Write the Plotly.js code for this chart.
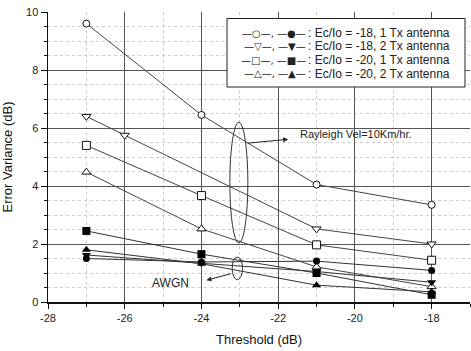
<!DOCTYPE html>
<html>
<head>
<meta charset="utf-8">
<script src="https://cdn.plot.ly/plotly-3.0.1.min.js"></script>
<style>html,body{margin:0;padding:0;background:#fff;}#chart{width:471px;height:351px;}</style>
</head>
<body>
<div id="chart"></div>
<script>
// ---- data ----
var seriesNames = [
  "Ec/Io = -18, 1 Tx antenna",
  "Ec/Io = -18, 2 Tx antenna",
  "Ec/Io = -20, 1 Tx antenna",
  "Ec/Io = -20, 2 Tx antenna"
];
var openSymbols = ["circle", "triangle-down", "square", "triangle-up"];
var filledSymbols = ["circle", "triangle-down", "square", "triangle-up"];
var openGlyphs = ["○", "▽", "□", "△"];
var filledGlyphs = ["●", "▼", "■", "▲"];

var xTickVals = [-28, -26, -24, -22, -20, -18];
var xTickText = ["-28", "-26", "-24", "-22", "-20", "-18"];
var yTickVals = [0, 2, 4, 6, 8, 10];
var yTickText = ["0", "2", "4", "6", "8", "10"];

// Rayleigh (open markers)
var rayX_18_1 = [-27, -24, -21, -18];
var rayY_18_1 = [9.6, 6.45, 4.05, 3.35];
var rayX_18_2 = [-27, -26, -21, -18];
var rayY_18_2 = [6.4, 5.75, 2.52, 2.0];
var rayX_20_1 = [-27, -24, -21, -18];
var rayY_20_1 = [5.4, 3.67, 1.97, 1.44];
var rayX_20_2 = [-27, -24, -21, -18];
var rayY_20_2 = [4.48, 2.52, 1.21, 0.53];

// AWGN (filled markers)
var awgnX = [-27, -24, -21, -18];
var awgnY_18_1 = [1.5, 1.38, 1.41, 1.09];
var awgnY_18_2 = [1.62, 1.34, 1.05, 0.68];
var awgnY_20_1 = [2.45, 1.65, 1.0, 0.25];
var awgnY_20_2 = [1.8, 1.32, 0.58, 0.35];

var xTitle = "Threshold (dB)";
var yTitle = "Error Variance (dB)";
var rayleighLabel = "Rayleigh Vel=10Km/hr.";
var awgnLabel = "AWGN";

// ---- build ----
var rayX = [rayX_18_1, rayX_18_2, rayX_20_1, rayX_20_2];
var rayY = [rayY_18_1, rayY_18_2, rayY_20_1, rayY_20_2];
var awgnY = [awgnY_18_1, awgnY_18_2, awgnY_20_1, awgnY_20_2];

var traces = [];
for (var i = 0; i < 4; i++) {
  traces.push({
    x: rayX[i], y: rayY[i], type: "scatter", mode: "lines+markers",
    name: seriesNames[i] + " (Rayleigh)", showlegend: false,
    line: {color: "#444", width: 1},
    marker: {symbol: openSymbols[i], size: i === 0 ? 7 : 8, color: "#fff", line: {color: "#111", width: 1}}
  });
}
for (var j = 0; j < 4; j++) {
  traces.push({
    x: awgnX, y: awgnY[j], type: "scatter", mode: "lines+markers",
    name: seriesNames[j] + " (AWGN)", showlegend: false,
    line: {color: "#333", width: 1},
    marker: {symbol: filledSymbols[j], size: j === 0 ? 7 : 8, color: "#000"}
  });
}

var L = 48, R = 1, T = 12, B = 49, W = 471, H = 351;
var pw = W - L - R, ph = H - T - B;
function px(xp) { return (xp - L) / pw; }
function py(yp) { return (H - B - yp) / ph; }

var font = "Liberation Sans, Arial, sans-serif";
var annotations = [];
var shapes = [];

// legend box
shapes.push({type: "rect", xref: "paper", yref: "paper",
  x0: px(227), x1: px(465), y0: py(87), y1: py(18.5),
  line: {color: "#222", width: 1}, fillcolor: "#fff", layer: "above"});
var rowY = [33.5, 46.5, 60, 73.5];
for (var r = 0; r < 4; r++) {
  annotations.push({xref: "paper", yref: "paper", x: px(308), y: py(rowY[r]),
    xanchor: "right", yanchor: "middle", showarrow: false,
    text: "—" + openGlyphs[r] + "—, —" + filledGlyphs[r] + "—",
    font: {family: "DejaVu Sans, sans-serif", size: 10, color: "#222"}});
  annotations.push({xref: "paper", yref: "paper", x: px(306), y: py(rowY[r]),
    xanchor: "left", yanchor: "middle", showarrow: false,
    text: ": " + seriesNames[r],
    font: {family: font, size: 12, color: "#222"}});
}

// ellipses
shapes.push({type: "circle", xref: "x", yref: "y", x0: -23.26, x1: -22.79, y0: 2.03, y1: 6.2,
  line: {color: "#333", width: 1}});
shapes.push({type: "circle", xref: "x", yref: "y", x0: -23.2, x1: -22.93, y0: 0.77, y1: 1.55,
  line: {color: "#333", width: 1}});

// arrows & labels
annotations.push({x: -21.74, y: 5.61, xref: "x", yref: "y", text: "", showarrow: true,
  ax: -42, ay: 4, arrowhead: 2, arrowsize: 1, arrowwidth: 1, arrowcolor: "#222"});
annotations.push({x: -21.49, y: 5.78, xref: "x", yref: "y", text: rayleighLabel, showarrow: false,
  xanchor: "left", yanchor: "middle", font: {family: font, size: 11, color: "#222"}});
annotations.push({x: -23.87, y: 0.75, xref: "x", yref: "y", text: "", showarrow: true,
  ax: 26, ay: -7, arrowhead: 2, arrowsize: 1, arrowwidth: 1, arrowcolor: "#222"});
annotations.push({x: -24.82, y: 0.64, xref: "x", yref: "y", text: awgnLabel, showarrow: false,
  xanchor: "center", yanchor: "middle", font: {family: font, size: 12, color: "#222"}});

var axisCommon = {
  showline: true, linecolor: "#111", linewidth: 1.5, zeroline: false,
  gridcolor: "#555", gridwidth: 1
};

var layout = {
  width: W, height: H,
  margin: {l: L, r: R, t: T, b: B, pad: 0},
  paper_bgcolor: "#fff", plot_bgcolor: "#fff",
  showlegend: false,
  font: {family: font, size: 11, color: "#222"},
  xaxis: Object.assign({}, axisCommon, {
    range: [-28, -17], tickvals: xTickVals, ticktext: xTickText,
    ticks: "outside", ticklen: 5, tickcolor: "#111", tickwidth: 1,
    minor: {dtick: 1, tick0: -28, ticks: "outside", ticklen: 3, tickcolor: "#111",
            showgrid: true, gridcolor: "#ccc", griddash: "dot", gridwidth: 1},
    tickfont: {family: font, size: 11, color: "#222"},
    title: {text: xTitle, font: {family: font, size: 13, color: "#111"}, standoff: 12},
    automargin: false
  }),
  yaxis: Object.assign({}, axisCommon, {
    range: [0, 10], tickvals: yTickVals, ticktext: yTickText,
    ticks: "outside", ticklen: 6, tickcolor: "#111", tickwidth: 1,
    minor: {dtick: 0.5, tick0: 0, ticks: "outside", ticklen: 3, tickcolor: "#111",
            showgrid: true, gridcolor: "#ccc", griddash: "dot", gridwidth: 1},
    tickfont: {family: font, size: 11, color: "#222"},
    title: {text: yTitle, font: {family: font, size: 13, color: "#111"}, standoff: 10},
    automargin: false
  }),
  xaxis2: {overlaying: "x", side: "top", anchor: "y", range: [-28, -17], matches: "x",
    showline: true, linecolor: "#111", linewidth: 2, showgrid: false, zeroline: false,
    tickvals: xTickVals, showticklabels: false,
    ticks: "inside", ticklen: 5, tickcolor: "#111",
    minor: {dtick: 1, tick0: -28, ticks: "inside", ticklen: 3, tickcolor: "#111"}},
  yaxis2: {overlaying: "y", side: "right", anchor: "x", range: [0, 10],
    showline: true, linecolor: "#111", linewidth: 1.5, showgrid: false, zeroline: false,
    tickvals: yTickVals, showticklabels: false,
    ticks: "inside", ticklen: 5, tickcolor: "#111",
    minor: {dtick: 0.5, tick0: 0, ticks: "inside", ticklen: 3, tickcolor: "#111"}},
  shapes: shapes,
  annotations: annotations
};

Plotly.newPlot("chart", traces, layout, {staticPlot: true, displayModeBar: false});
</script>
</body>
</html>
